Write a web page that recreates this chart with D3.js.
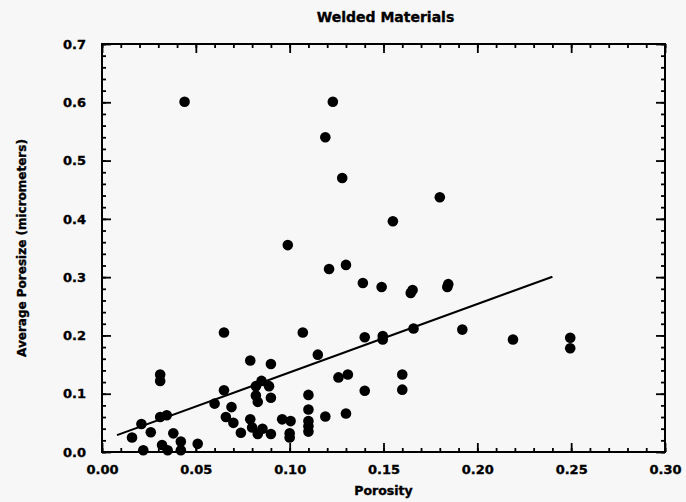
<!DOCTYPE html>
<html>
<head>
<meta charset="utf-8">
<script src="https://cdn.jsdelivr.net/npm/d3@7"></script>
<style>
  html, body { margin: 0; padding: 0; background: #f7f7f7; }
  svg { display: block; }
  text { font-family: "DejaVu Sans", "Liberation Sans", Arial, sans-serif; font-weight: bold; fill: #000; stroke: #000; stroke-width: 0.35px; }
</style>
</head>
<body>
<svg id="chart" width="686" height="502"></svg>
<script>
// Porosity (fraction) of each welded sample
const porosity = [
  0.044, 0.123, 0.119, 0.128, 0.180, 0.155, 0.099,
  0.121, 0.130, 0.139, 0.149, 0.1645, 0.1655, 0.1840, 0.1845,
  0.192, 0.219, 0.2495, 0.2495,
  0.107, 0.115, 0.140, 0.1496, 0.1496, 0.166,
  0.126, 0.131, 0.140, 0.160, 0.160,
  0.110, 0.110, 0.110, 0.110, 0.110,
  0.119, 0.130, 0.096, 0.1005, 0.100, 0.100,
  0.016, 0.021, 0.022, 0.026, 0.031, 0.031, 0.031, 0.0345,
  0.032, 0.035, 0.038, 0.042, 0.042, 0.051,
  0.065, 0.060, 0.065, 0.069, 0.066, 0.070, 0.074,
  0.079, 0.090, 0.085, 0.089, 0.082, 0.082, 0.083, 0.090,
  0.079, 0.080, 0.083, 0.0855, 0.090
];
// Average pore size (micrometers) for the same samples
const poresize = [
  0.601, 0.601, 0.540, 0.470, 0.437, 0.396, 0.355,
  0.314, 0.321, 0.290, 0.283, 0.273, 0.278, 0.283, 0.288,
  0.210, 0.193, 0.196, 0.178,
  0.205, 0.167, 0.197, 0.199, 0.193, 0.212,
  0.128, 0.133, 0.105, 0.133, 0.107,
  0.098, 0.073, 0.053, 0.044, 0.035,
  0.061, 0.066, 0.056, 0.053, 0.032, 0.025,
  0.025, 0.048, 0.003, 0.034, 0.133, 0.122, 0.060, 0.063,
  0.012, 0.003, 0.032, 0.018, 0.003, 0.014,
  0.205, 0.083, 0.106, 0.077, 0.060, 0.050, 0.033,
  0.157, 0.151, 0.122, 0.113, 0.113, 0.097, 0.086, 0.093,
  0.056, 0.042, 0.031, 0.040, 0.031
];
// Least-squares fit drawn across the sampled porosity range
const fitPorosity = [0.008, 0.240];
const fitPoresize = [0.0289, 0.3007];

const xTicks = [0.00, 0.05, 0.10, 0.15, 0.20, 0.25, 0.30];
const yTicks = [0.0, 0.1, 0.2, 0.3, 0.4, 0.5, 0.6, 0.7];
const xMinorTicks = d3.range(0, 31).map(i => i / 100);
const yMinorTicks = d3.range(0, 36).map(i => i / 50);

const svg = d3.select("#chart");
const margin = { left: 102, right: 21, top: 44, bottom: 50 };
const W = 686, H = 502;
const x = d3.scaleLinear().domain([0, 0.30]).range([margin.left, W - margin.right]);
const y = d3.scaleLinear().domain([0, 0.7]).range([H - margin.bottom, margin.top]);

const majorLen = 9, minorLen = 4;

function styleAxis(g) {
  g.select(".domain").remove();
  g.selectAll(".tick line").attr("stroke", "#000").attr("stroke-width", 1.8);
  g.selectAll(".tick text")
    .style("font-size", "13px")
    .style("font-family", "'DejaVu Sans', sans-serif")
    .style("font-weight", "bold")
    .style("stroke", "#000")
    .style("stroke-width", "0.35px");
}

// minor ticks on all four sides (pointing inward)
svg.append("g").attr("transform", `translate(0,${y(0)})`)
  .call(d3.axisBottom(x).tickValues(xMinorTicks).tickSize(-minorLen).tickFormat(""))
  .call(styleAxis);
svg.append("g").attr("transform", `translate(0,${y(0.7)})`)
  .call(d3.axisTop(x).tickValues(xMinorTicks).tickSize(-minorLen).tickFormat(""))
  .call(styleAxis);
svg.append("g").attr("transform", `translate(${x(0)},0)`)
  .call(d3.axisLeft(y).tickValues(yMinorTicks).tickSize(-minorLen).tickFormat(""))
  .call(styleAxis);
svg.append("g").attr("transform", `translate(${x(0.3)},0)`)
  .call(d3.axisRight(y).tickValues(yMinorTicks).tickSize(-minorLen).tickFormat(""))
  .call(styleAxis);

// major ticks with labels on bottom and left
svg.append("g").attr("transform", `translate(0,${y(0)})`)
  .call(d3.axisBottom(x).tickValues(xTicks).tickSize(-majorLen).tickPadding(13).tickFormat(d3.format(".2f")))
  .call(styleAxis);
svg.append("g").attr("transform", `translate(${x(0)},0)`)
  .call(d3.axisLeft(y).tickValues(yTicks).tickSize(-majorLen).tickPadding(16).tickFormat(d3.format(".1f")))
  .call(styleAxis);
svg.append("g").attr("transform", `translate(0,${y(0.7)})`)
  .call(d3.axisTop(x).tickValues(xTicks).tickSize(-majorLen).tickFormat(""))
  .call(styleAxis);
svg.append("g").attr("transform", `translate(${x(0.3)},0)`)
  .call(d3.axisRight(y).tickValues(yTicks).tickSize(-majorLen).tickFormat(""))
  .call(styleAxis);

// frame
svg.append("rect")
  .attr("x", x(0)).attr("y", y(0.7))
  .attr("width", x(0.3) - x(0)).attr("height", y(0) - y(0.7))
  .attr("fill", "none").attr("stroke", "#000").attr("stroke-width", 2);

// fitted line
const fit = fitPorosity.map((p, i) => [p, fitPoresize[i]]);
svg.append("path")
  .datum(fit)
  .attr("d", d3.line().x(d => x(d[0])).y(d => y(d[1])))
  .attr("fill", "none").attr("stroke", "#000").attr("stroke-width", 2);

// sample points
svg.append("g").selectAll("circle")
  .data(porosity.map((p, i) => [p, poresize[i]]))
  .join("circle")
  .attr("cx", d => x(d[0])).attr("cy", d => y(d[1]))
  .attr("r", 5.3).attr("fill", "#000");

// titles
svg.append("text")
  .attr("x", (x(0) + x(0.3)) / 2 + 2).attr("y", 22)
  .attr("text-anchor", "middle").style("font-size", "14px")
  .text("Welded Materials");
svg.append("text")
  .attr("x", (x(0) + x(0.3)) / 2).attr("y", 495)
  .attr("text-anchor", "middle").style("font-size", "12.5px")
  .text("Porosity");
svg.append("text")
  .attr("transform", `translate(26,${(y(0) + y(0.7)) / 2}) rotate(-90)`)
  .attr("text-anchor", "middle").style("font-size", "12px")
  .text("Average Poresize (micrometers)");
</script>
</body>
</html>
